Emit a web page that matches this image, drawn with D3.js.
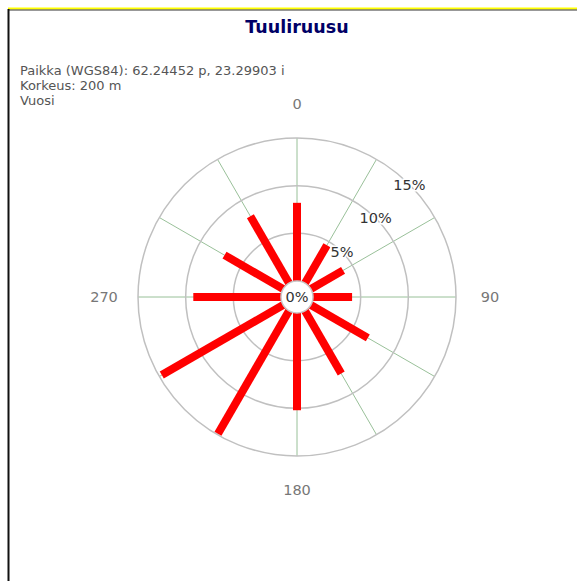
<!DOCTYPE html>
<html>
<head>
<meta charset="utf-8">
<script src="https://cdn.jsdelivr.net/npm/d3@7"></script>
<style>
  html, body { margin: 0; padding: 0; background: #fff; }
  svg { display: block; font-family: "DejaVu Sans", Verdana, sans-serif; }
</style>
</head>
<body>
<svg id="chart" width="577" height="581"></svg>
<script>
"use strict";

// suunnat (astetta) ja osuudet (%)
var directions = [0, 30, 60, 90, 120, 150, 180, 210, 240, 270, 300, 330];
var frequencies = [8.2, 4.6, 3.9, 4.1, 6.9, 7.6, 10.2, 14.9, 14.7, 9.2, 7.1, 8.1];
var ringTicks = [5, 10, 15];
var axisLabels = [0, 90, 180, 270];
var titleText = "Tuuliruusu";
var infoLines = ["Paikka (WGS84): 62.24452 p, 23.29903 i", "Korkeus: 200 m", "Vuosi"];

var cfg = {
  width: 577, height: 581,
  cx: 297, cy: 297,
  inner: 16, outer: 159,
  labelR: 193
};

var svg = d3.select("#chart");

// kehys
svg.append("line").attr("x1", 8).attr("x2", cfg.width).attr("y1", 8.5).attr("y2", 8.5)
  .attr("stroke", "#ffff00").attr("stroke-width", 2);
svg.append("line").attr("x1", 8).attr("x2", cfg.width).attr("y1", 10).attr("y2", 10)
  .attr("stroke", "#333").attr("stroke-width", 1);
svg.append("line").attr("x1", 8.5).attr("x2", 8.5).attr("y1", 9).attr("y2", cfg.height)
  .attr("stroke", "#111").attr("stroke-width", 2);

svg.append("text")
  .attr("x", cfg.cx).attr("y", 33)
  .attr("text-anchor", "middle")
  .attr("font-size", 17.5).attr("font-weight", "bold")
  .attr("fill", "#000066")
  .text(titleText);

svg.append("g").selectAll("text")
  .data(infoLines)
  .enter().append("text")
  .attr("x", 20)
  .attr("y", function(d, i) { return 75 + i * 15; })
  .attr("font-size", 13)
  .attr("fill", "#555")
  .text(function(d) { return d; });

var rScale = d3.scaleLinear().domain([0, 15]).range([cfg.inner, cfg.outer]);

var plot = svg.append("g")
  .attr("transform", "translate(" + cfg.cx + "," + cfg.cy + ")");

function px(angle, r) { return r * Math.sin(angle * Math.PI / 180); }
function py(angle, r) { return -r * Math.cos(angle * Math.PI / 180); }

// säteet
plot.selectAll(".spoke")
  .data(directions)
  .enter().append("line")
  .attr("class", "spoke")
  .attr("x1", 0).attr("y1", 0)
  .attr("x2", function(d) { return px(d, cfg.outer); })
  .attr("y2", function(d) { return py(d, cfg.outer); })
  .attr("stroke", "#7fb07f").attr("stroke-width", 0.8);

// renkaat
plot.selectAll(".ring")
  .data(ringTicks)
  .enter().append("circle")
  .attr("class", "ring")
  .attr("r", function(d) { return rScale(d); })
  .attr("fill", "none")
  .attr("stroke", "#c0c0c0").attr("stroke-width", 1.5);

// palkit
plot.selectAll(".bar")
  .data(directions)
  .enter().append("line")
  .attr("class", "bar")
  .attr("x1", 0).attr("y1", 0)
  .attr("x2", function(d, i) { return px(d, rScale(frequencies[i])); })
  .attr("y2", function(d, i) { return py(d, rScale(frequencies[i])); })
  .attr("stroke", "#ff0000").attr("stroke-width", 8);

// keskusta
plot.append("circle")
  .attr("r", cfg.inner)
  .attr("fill", "#fff")
  .attr("stroke", "#c8c8c8").attr("stroke-width", 1.5);
plot.append("text")
  .attr("y", 5).attr("text-anchor", "middle")
  .attr("font-size", 14.5).attr("fill", "#333")
  .text("0%");

// renkaiden otsikot
plot.selectAll(".ringLabel")
  .data(ringTicks)
  .enter().append("text")
  .attr("class", "ringLabel")
  .attr("x", function(d) { return px(45, rScale(d)); })
  .attr("y", function(d) { return py(45, rScale(d)) + 5; })
  .attr("text-anchor", "middle")
  .attr("font-size", 14.5).attr("fill", "#333")
  .attr("stroke", "#fff").attr("stroke-width", 3).attr("paint-order", "stroke")
  .text(function(d) { return d + "%"; });

// ilmansuunnat
plot.selectAll(".axisLabel")
  .data(axisLabels)
  .enter().append("text")
  .attr("class", "axisLabel")
  .attr("x", function(d) { return px(d, cfg.labelR); })
  .attr("y", function(d) { return py(d, cfg.labelR) + 5; })
  .attr("text-anchor", "middle")
  .attr("font-size", 14.5).attr("fill", "#777")
  .text(function(d) { return d; });
</script>
</body>
</html>
